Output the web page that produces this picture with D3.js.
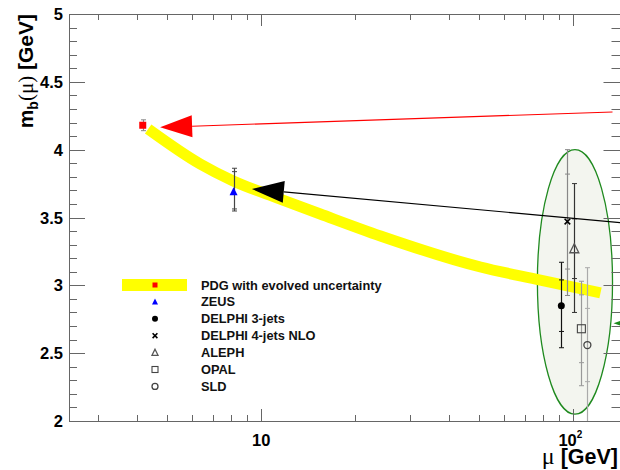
<!doctype html>
<html lang="en">
  <head>
    <meta charset="utf-8">
    <title>Running b-quark mass</title>
    <script src="https://d3js.org/d3.v7.min.js"></script>
    <style>
      body { margin: 0; background: #fff; }
      text { font-family: "Liberation Sans", Arial, Helvetica, sans-serif; }
    </style>
  </head>
  <body>
    <div id="container"></div>
  <script>
    // values
    // yellow PDG band (centre line), mu in GeV and m_b(mu) in GeV
    const bandMu = [4.34, 6.37, 8.13, 11.5, 15.45, 24.1, 50.4, 78.4, 122.2]
    const bandVal = [4.152, 3.894, 3.769, 3.636, 3.526, 3.364, 3.135, 3.039, 2.944]

    // measurements
    const expNames = ["PDG with evolved uncertainty", "ZEUS", "DELPHI 3-jets", "DELPHI 4-jets NLO", "ALEPH", "OPAL", "SLD"]
    const expMu = [4.17, 8.15, 91.5, 95.7, 100.7, 106.1, 110.9]
    const expVal = [4.18, 3.69, 2.85, 3.47, 3.27, 2.68, 2.56]
    const errTotUp = [0.04, 0.173, 0.32, 0.53, 0.48, 0.35, 0.57]
    const errTotDown = [0.04, 0.142, 0.31, 0.545, 0.47, 0.42, 0.60]
    const errInUp = [null, 0.148, 0.19, 0.35, 0.22, 0.25, 0.27]
    const errInDown = [null, 0.127, 0.19, 0.35, 0.22, 0.25, 0.27]

    // LEP ellipse extent
    const ellipseMu = [76.7, 133.5]
    const ellipseVal = [2.05, 4.0]

    // arrows: tip and tail
    const arrowTipMu = [4.74, 9.33, 134.5]
    const arrowTipVal = [4.165, 3.71, 2.72]
    const arrowTailMu = [133.5, 141.6, 170]
    const arrowTailVal = [4.278, 3.462, 2.72]
    const arrowColors = ["#ff0000", "#000000", "#1a8a1a"]

    const yMajorTicks = [2, 2.5, 3, 3.5, 4, 4.5, 5]

    // layout
    const W = 620, H = 470
    const plotLeft = 69, plotRight = 620.5, plotTop = 14, plotBottom = 421

    const svg = d3.select("#container").append("svg")
      .attr("width", W).attr("height", H)

    const x = d3.scaleLog().domain([2.42, 141.6]).range([plotLeft, plotRight])
    const y = d3.scaleLinear().domain([2, 5]).range([plotBottom, plotTop])

    svg.append("clipPath").attr("id", "plotClip")
      .append("rect").attr("x", plotLeft).attr("y", plotTop)
      .attr("width", plotRight - plotLeft).attr("height", plotBottom - plotTop)

    const plot = svg.append("g").attr("clip-path", "url(#plotClip)")

    // ellipse around LEP points
    const ex0 = x(ellipseMu[0]), ex1 = x(ellipseMu[1])
    const ey0 = y(ellipseVal[0]), ey1 = y(ellipseVal[1])
    plot.append("ellipse")
      .attr("cx", (ex0 + ex1) / 2).attr("cy", (ey0 + ey1) / 2)
      .attr("rx", (ex1 - ex0) / 2).attr("ry", (ey0 - ey1) / 2)
      .attr("fill", "#f3f5ef")
      .attr("stroke", "#1f8a1f")
      .attr("stroke-width", 1.3)

    // yellow band
    const bandLine = d3.line()
      .x(i => x(bandMu[i]))
      .y(i => y(bandVal[i]))
      .curve(d3.curveMonotoneX)
    plot.append("path")
      .attr("d", bandLine(d3.range(bandMu.length)))
      .attr("fill", "none")
      .attr("stroke", "#ffff00")
      .attr("stroke-width", 11)

    // markers
    function drawMarker(g, kind, cx, cy, s) {
      if (kind === 0) {
        g.append("rect").attr("x", cx - s / 2).attr("y", cy - s / 2)
          .attr("width", s).attr("height", s).attr("fill", "#ff0000")
      } else if (kind === 1) {
        g.append("path").attr("d", `M${cx},${cy - s * 0.55}L${cx + s / 2},${cy + s * 0.45}L${cx - s / 2},${cy + s * 0.45}Z`)
          .attr("fill", "#0000ff")
      } else if (kind === 2) {
        g.append("circle").attr("cx", cx).attr("cy", cy).attr("r", s / 2).attr("fill", "#000")
      } else if (kind === 3) {
        const h = s * 0.4
        g.append("path").attr("d", `M${cx - h},${cy - h}L${cx + h},${cy + h}M${cx - h},${cy + h}L${cx + h},${cy - h}`)
          .attr("stroke", "#000").attr("stroke-width", 1.6)
      } else if (kind === 4) {
        g.append("path").attr("d", `M${cx},${cy - s * 0.55}L${cx + s / 2},${cy + s * 0.45}L${cx - s / 2},${cy + s * 0.45}Z`)
          .attr("fill", "none").attr("stroke", "#555").attr("stroke-width", 1.3)
      } else if (kind === 5) {
        g.append("rect").attr("x", cx - s / 2).attr("y", cy - s / 2)
          .attr("width", s).attr("height", s).attr("fill", "none")
          .attr("stroke", "#444").attr("stroke-width", 1.1)
      } else {
        g.append("circle").attr("cx", cx).attr("cy", cy).attr("r", s / 2)
          .attr("fill", "none").attr("stroke", "#444").attr("stroke-width", 1.3)
      }
    }

    const barColors = ["#888", "#444", "#111", "#888", "#333", "#999", "#aaa"]
    const markerSize = [7, 8, 7, 7, 9, 8, 7]

    expMu.forEach((mu, i) => {
      const cx = Math.round(x(mu)) + 0.5
      const col = barColors[i]
      plot.append("line")
        .attr("x1", cx).attr("x2", cx)
        .attr("y1", y(expVal[i] + errTotUp[i])).attr("y2", y(expVal[i] - errTotDown[i]))
        .attr("stroke", col).attr("stroke-width", 1.2)
      const tickYs = [expVal[i] + errTotUp[i], expVal[i] - errTotDown[i]]
      if (errInUp[i] !== null) tickYs.push(expVal[i] + errInUp[i], expVal[i] - errInDown[i])
      tickYs.forEach(v => {
        plot.append("line")
          .attr("x1", cx - 2.5).attr("x2", cx + 2.5)
          .attr("y1", y(v)).attr("y2", y(v))
          .attr("stroke", col).attr("stroke-width", 1)
      })
    })
    expMu.forEach((mu, i) => {
      drawMarker(plot, i, x(mu), y(expVal[i]), markerSize[i])
    })

    // arrows
    arrowTipMu.forEach((mu, i) => {
      const tx = x(mu), ty = y(arrowTipVal[i])
      const ax = x(arrowTailMu[i]), ay = y(arrowTailVal[i])
      const len = Math.hypot(ax - tx, ay - ty)
      const ux = (ax - tx) / len, uy = (ay - ty) / len
      const headLen = 32, headHalf = 11
      const bx = tx + ux * headLen, by = ty + uy * headLen
      plot.append("line")
        .attr("x1", bx).attr("y1", by).attr("x2", ax).attr("y2", ay)
        .attr("stroke", arrowColors[i]).attr("stroke-width", 1.1)
      plot.append("path")
        .attr("d", `M${tx},${ty}L${bx - uy * headHalf},${by + ux * headHalf}L${bx + uy * headHalf},${by - ux * headHalf}Z`)
        .attr("fill", arrowColors[i])
    })

    // legend
    const legend = svg.append("g")
    const legX = 155, legY0 = 285, legStep = 16.9
    legend.append("rect")
      .attr("x", 122).attr("y", 279).attr("width", 65).attr("height", 12)
      .attr("fill", "#ffff00")
    expNames.forEach((name, i) => {
      const ly = legY0 + i * legStep
      drawMarker(legend, i, legX, ly, i === 0 ? 5 : 6)
      legend.append("text")
        .attr("x", 201).attr("y", ly + 4.5)
        .attr("font-size", 12.8).attr("font-weight", "bold")
        .attr("fill", "#111")
        .text(name)
    })

    // frame and ticks
    const axes = svg.append("g").attr("stroke", "#666").attr("stroke-width", 1)
    axes.append("rect")
      .attr("x", plotLeft + 0.5).attr("y", plotTop + 0.5)
      .attr("width", plotRight - plotLeft).attr("height", plotBottom - plotTop)
      .attr("fill", "none")

    d3.range(2, 5.001, 0.1).forEach(v => {
      const major = yMajorTicks.some(m => Math.abs(m - v) < 1e-6)
      const len = major ? 16 : 8
      const yy = Math.round(y(v)) + 0.5
      axes.append("line").attr("x1", plotLeft).attr("x2", plotLeft + len).attr("y1", yy).attr("y2", yy)
      axes.append("line").attr("x1", plotRight).attr("x2", plotRight - len - 1).attr("y1", yy).attr("y2", yy)
    })

    x.ticks().forEach(t => {
      const major = t === 10 || t === 100
      const len = major ? 12 : 6
      const xx = Math.round(x(t)) + 0.5
      axes.append("line").attr("x1", xx).attr("x2", xx).attr("y1", plotBottom).attr("y2", plotBottom - len)
      axes.append("line").attr("x1", xx).attr("x2", xx).attr("y1", plotTop).attr("y2", plotTop + len)
    })

    // tick labels
    yMajorTicks.forEach(v => {
      svg.append("text")
        .attr("x", 63).attr("y", y(v) + 6)
        .attr("text-anchor", "end")
        .attr("font-size", 16.5).attr("font-weight", "bold")
        .text(v)
    })
    svg.append("text")
      .attr("x", x(10)).attr("y", 446)
      .attr("text-anchor", "middle")
      .attr("font-size", 16.5).attr("font-weight", "bold")
      .text("10")
    const t100 = svg.append("text")
      .attr("x", x(100) - 3).attr("y", 446)
      .attr("text-anchor", "middle")
      .attr("font-size", 16.5).attr("font-weight", "bold")
    t100.append("tspan").text("10")
    t100.append("tspan").attr("font-size", 10).attr("dy", -8).text("2")

    // axis titles
    const xTitle = svg.append("text")
      .attr("x", 618).attr("y", 463.5)
      .attr("text-anchor", "end")
      .attr("font-size", 21.5).attr("font-weight", "bold")
    xTitle.append("tspan")
      .attr("font-family", "'Liberation Serif', 'DejaVu Serif', serif")
      .attr("font-weight", "normal").attr("font-size", 24)
      .text("\u03bc")
    xTitle.append("tspan").text(" [GeV]")

    const yTitle = svg.append("text")
      .attr("transform", "translate(33,14) rotate(-90)")
      .attr("text-anchor", "end")
      .attr("font-size", 21).attr("font-weight", "bold")
    yTitle.append("tspan").text("m")
    yTitle.append("tspan").attr("font-size", 14).attr("dy", 5).text("b")
    yTitle.append("tspan").attr("dy", -5)
      .attr("font-family", "'Liberation Serif', 'DejaVu Serif', serif")
      .attr("font-weight", "normal")
      .text("(\u03bc)")
    yTitle.append("tspan").text(" [GeV]")
  </script>
  </body>
</html>
